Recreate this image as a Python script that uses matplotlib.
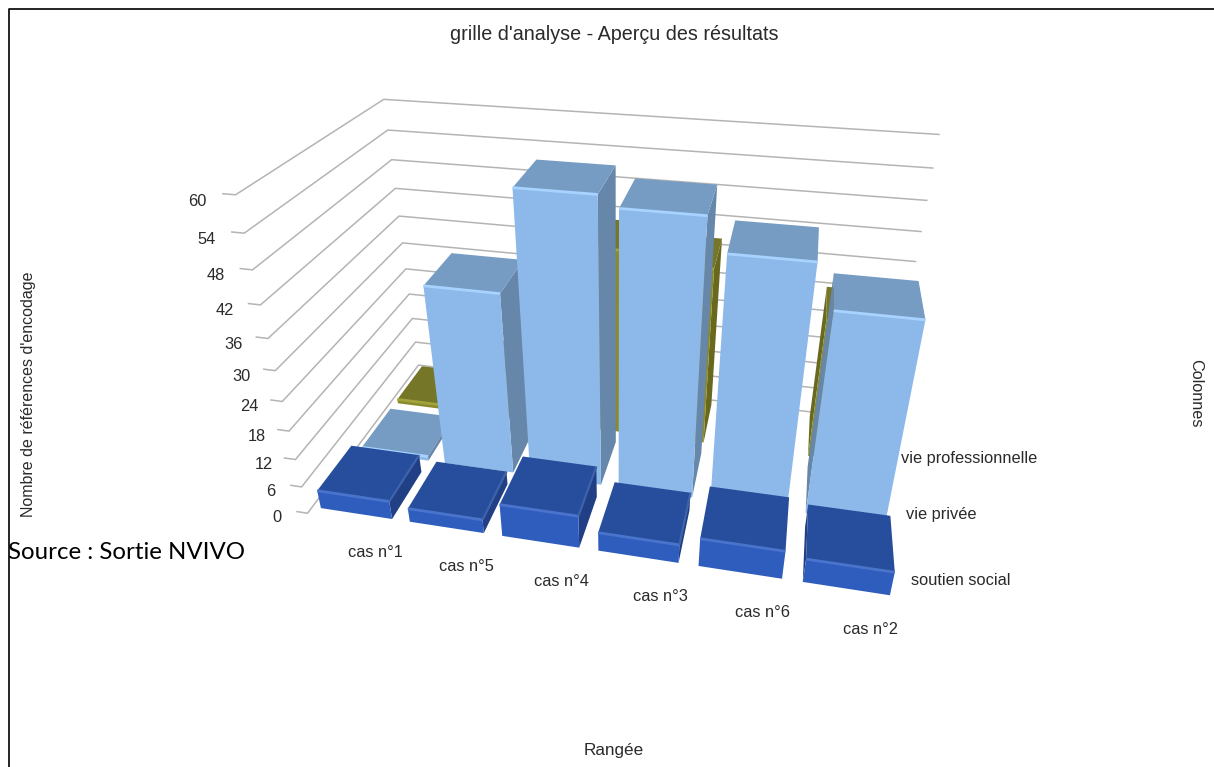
import matplotlib
matplotlib.use("Agg")
import matplotlib.pyplot as plt
from matplotlib.lines import Line2D
from mpl_toolkits.mplot3d import proj3d

# Chart content
cases = ["cas n°1", "cas n°5", "cas n°4", "cas n°3", "cas n°6", "cas n°2"]
themes = ["soutien social", "vie privée", "vie professionnelle"]
soutien_social = [4, 3, 7, 4, 6, 5]
vie_privee = [1, 38, 57, 55, 49, 41]
vie_professionnelle = [1, 10, 40, 38, 25, 30]
z_ticks = [0, 6, 12, 18, 24, 30, 36, 42, 48, 54, 60]

series = [soutien_social, vie_privee, vie_professionnelle]

# Face colours per series: front, top, side, highlight
palette = [
    ("#2f5dbd", "#274e9c", "#213f85", "#4a74cc"),
    ("#8cb9e9", "#769cc3", "#6687a9", "#a8d2ff"),
    ("#8a8a2c", "#757627", "#68691f", "#a3a33c"),
]
SOUTIEN_EDGE = "#3f63a8"
GRID = "#b4b4b4"
INK = "#2a2a2a"
SANS = "Liberation Sans"

GAP_X, GAP_Y = 0.098, 0.104
CAMERA_COL = 4.5

fig = plt.figure(figsize=(12.14, 7.67), dpi=100)
W, H = 1214, 767
side = 718.85
ax = fig.add_axes([248.45 / W, 77.61 / H, side / W, side / H],
                  projection="3d", computed_zorder=False)
ax.set_axis_off()
ax.set_box_aspect((1.6888, 0.8251, 1))
ax.set_proj_type("persp", focal_length=0.22997)
ax.view_init(elev=29.80, azim=-78.09, roll=-0.034)


def set_limits():
    ax.set_xlim(0.0039, 6.0039)
    ax.set_ylim(0, 3)
    ax.set_zlim(1.448, 61.448)


set_limits()
n_cols, n_rows = len(cases), len(themes)

# Gridlines run along the left wall and the back wall
for z in z_ticks:
    ax.plot([-0.12, 0, 0, n_cols], [0, 0, n_rows, n_rows], [z, z, z, z],
            color=GRID, lw=1.1, zorder=1, solid_joinstyle="miter", clip_on=False)

# Painter's order: back row first, columns furthest from the camera first
order = 10
for row in reversed(range(n_rows)):
    front, top, flank, glow = palette[row]
    cols = sorted(range(n_cols), key=lambda c: -abs(c + 0.5 - CAMERA_COL))
    for col in cols:
        x0 = col + GAP_X
        y0 = row + GAP_Y
        dx = 1 - 2 * GAP_X
        dy = 1 - 2 * GAP_Y
        h = series[row][col]
        clear = (0, 0, 0, 0)
        left = flank if x0 > CAMERA_COL else clear
        right = flank if x0 + dx < CAMERA_COL else clear
        ax.bar3d(x0, y0, 0, dx, dy, h, shade=False, linewidth=0, zorder=order,
                 color=[clear, top, front, clear, left, right])
        # Lighter bevel along the upper front edge
        ax.plot([x0, x0 + dx], [y0, y0], [h, h], color=glow, lw=2.0,
                zorder=order + 1, solid_capstyle="butt")
        if row == 0 and x0 + dx < CAMERA_COL:
            ax.plot([x0 + dx, x0 + dx], [y0, y0 + dy], [h, h], color=SOUTIEN_EDGE,
                    lw=1.6, zorder=order + 1, solid_capstyle="butt")
        order += 2

set_limits()
fig.canvas.draw()
M = ax.get_proj()


def label3d(x, y, z, text, dx_px, dy_px, **kw):
    u, v, _ = proj3d.proj_transform(x, y, z, M)
    ax.annotate(text, (u, v), xycoords="data", xytext=(dx_px, dy_px),
                textcoords="offset pixels", annotation_clip=False,
                family=SANS, color=INK, zorder=500, **kw)


for z in z_ticks:
    label3d(-0.43, 0, z, str(z), 7, -10.5, fontsize=11.8, ha="center", va="center")
for col, name in enumerate(cases):
    label3d(col + 0.5, 0, 0, name, 24, -32.5, fontsize=11.8, ha="center", va="center")
for row, name in enumerate(themes):
    label3d(n_cols, row + 0.5, 0, name, 13, -13.5, fontsize=11.8, ha="left", va="center")


def page_text(px, py, text, **kw):
    fig.text(px / W, 1 - py / H, text, ha=kw.pop("ha", "center"),
             va="center", **kw)


page_text(614, 35, "grille d'analyse - Aperçu des résultats",
          family=SANS, fontsize=14.2, color=INK)
page_text(614, 750, "Rangée", family=SANS, fontsize=12.3, color=INK)
page_text(29, 394, "Nombre de références d'encodage", family=SANS, fontsize=11.5,
          color=INK, rotation=90)
page_text(1196, 393, "Colonnes", family=SANS, fontsize=11.7, color=INK, rotation=270)
page_text(8, 552.5, "Source : Sortie NVIVO", family="Lato", fontsize=17.3, color="black", ha="left")

# Page frame along the top and left edges
fig.add_artist(Line2D([9 / W, 9 / W, 1], [0, 1 - 9 / H, 1 - 9 / H],
                      color="black", lw=1.2, transform=fig.transFigure))

fig.savefig("out.png", dpi=100)
